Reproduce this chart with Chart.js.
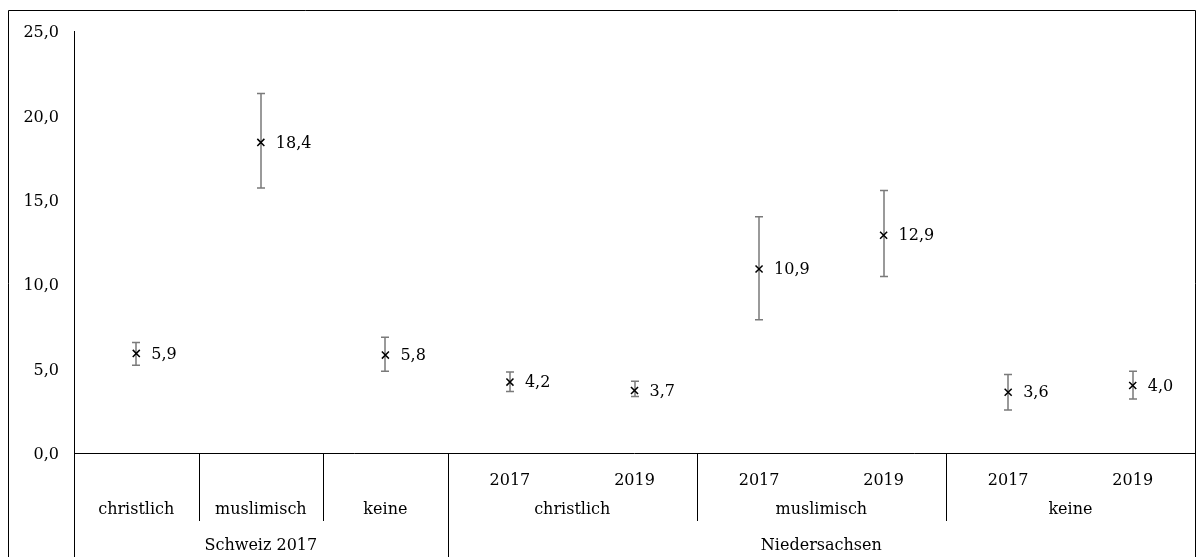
<!DOCTYPE html>
<html>
<head>
<meta charset="utf-8">
<script src="https://cdn.jsdelivr.net/npm/chart.js@4/dist/chart.umd.min.js"></script>
<style>
  html, body { margin: 0; padding: 0; background: #fff; }
  canvas { display: block; }
</style>
</head>
<body>
<canvas id="chart" width="1203" height="557"></canvas>
<script>
// Category hierarchy (one entry per point)
const regionLabels   = ['Schweiz 2017', 'Schweiz 2017', 'Schweiz 2017',
                        'Niedersachsen', 'Niedersachsen', 'Niedersachsen',
                        'Niedersachsen', 'Niedersachsen', 'Niedersachsen'];
const religionLabels = ['christlich', 'muslimisch', 'keine',
                        'christlich', 'christlich', 'muslimisch',
                        'muslimisch', 'keine', 'keine'];
const yearLabels     = ['', '', '', '2017', '2019', '2017', '2019', '2017', '2019'];

// Estimates (%) with confidence interval bounds
const values = [5.9, 18.4, 5.8, 4.2, 3.7, 10.9, 12.9, 3.6, 4.0];
const lower  = [5.2, 15.7, 4.85, 3.65, 3.35, 7.9, 10.45, 2.55, 3.2];
const upper  = [6.55, 21.3, 6.85, 4.8, 4.25, 14.0, 15.55, 4.65, 4.85];

// Y axis ticks
const yTicks = [0, 5, 10, 15, 20, 25];

const FONT_FAMILY = "'DejaVu Serif', serif";
const FONT_SIZE = 16;
const fmt = v => v.toFixed(1).replace('.', ',');

const categoryKeys = values.map((_, i) => regionLabels[i] + '|' + religionLabels[i] + '|' + yearLabels[i]);

// Draws the outer frame, the multi-level category axis and the error bars
const categoryAxisPlugin = {
  id: 'categoryAxis',
  beforeDatasetsDraw(chart) {
    const { ctx, chartArea: { left, right, top, bottom }, scales: { x, y } } = chart;
    const H = chart.height;
    const n = values.length;
    const half = (x.getPixelForValue(1) - x.getPixelForValue(0)) / 2;
    const snap = v => Math.round(v) + 0.5;

    ctx.save();
    ctx.strokeStyle = '#000';
    ctx.lineWidth = 1;

    // outer frame
    ctx.beginPath();
    ctx.moveTo(8.5, H);
    ctx.lineTo(8.5, 10.5);
    ctx.lineTo(snap(right), 10.5);
    ctx.lineTo(snap(right), H);
    ctx.stroke();

    // category axis line
    ctx.beginPath();
    ctx.moveTo(left, snap(bottom));
    ctx.lineTo(right, snap(bottom));
    ctx.stroke();

    // dividers between categories
    for (let i = 0; i < n; i++) {
      const px = snap(x.getPixelForValue(i) - half);
      let yEnd;
      if (i === 0 || regionLabels[i] !== regionLabels[i - 1]) yEnd = H;
      else if (religionLabels[i] !== religionLabels[i - 1]) yEnd = bottom + 68;
      else continue;
      ctx.beginPath();
      ctx.moveTo(px, bottom);
      ctx.lineTo(px, yEnd);
      ctx.stroke();
    }

    // labels
    ctx.fillStyle = '#000';
    ctx.font = FONT_SIZE + 'px ' + FONT_FAMILY;
    ctx.textAlign = 'center';
    ctx.textBaseline = 'middle';

    // row 1: years
    yearLabels.forEach((lab, i) => {
      if (lab) ctx.fillText(lab, x.getPixelForValue(i), bottom + 28);
    });

    // rows 2 and 3: merged spans
    const drawSpans = (labels, parents, yPos) => {
      let start = 0;
      for (let i = 1; i <= n; i++) {
        if (i === n || labels[i] !== labels[start] || (parents && parents[i] !== parents[start])) {
          const cx = (x.getPixelForValue(start) + x.getPixelForValue(i - 1)) / 2;
          ctx.fillText(labels[start], cx, yPos);
          start = i;
        }
      }
    };
    drawSpans(religionLabels, regionLabels, bottom + 57);
    drawSpans(regionLabels, null, bottom + 93);

    // error bars
    ctx.strokeStyle = '#7a7a7a';
    ctx.lineWidth = 1.5;
    values.forEach((v, i) => {
      const cx = Math.round(x.getPixelForValue(i));
      const yl = y.getPixelForValue(lower[i]);
      const yu = y.getPixelForValue(upper[i]);
      ctx.beginPath();
      ctx.moveTo(cx, yu); ctx.lineTo(cx, yl);
      ctx.moveTo(cx - 4, yu); ctx.lineTo(cx + 4, yu);
      ctx.moveTo(cx - 4, yl); ctx.lineTo(cx + 4, yl);
      ctx.stroke();
    });
    ctx.restore();
  },
  afterDatasetsDraw(chart) {
    const { ctx, scales: { x, y } } = chart;
    ctx.save();
    ctx.fillStyle = '#000';
    ctx.font = FONT_SIZE + 'px ' + FONT_FAMILY;
    ctx.textAlign = 'left';
    ctx.textBaseline = 'middle';
    values.forEach((v, i) => {
      ctx.fillText(fmt(v), x.getPixelForValue(i) + 15, y.getPixelForValue(v) + 1);
    });
    ctx.restore();
  }
};

new Chart(document.getElementById('chart'), {
  type: 'line',
  data: {
    labels: categoryKeys,
    datasets: [{
      data: values,
      showLine: false,
      pointStyle: 'crossRot',
      pointRadius: 5,
      pointHoverRadius: 5,
      pointBorderColor: '#000',
      pointBorderWidth: 1.5,
      borderColor: '#000'
    }]
  },
  options: {
    responsive: false,
    devicePixelRatio: 1,
    animation: false,
    events: [],
    layout: { padding: { left: 0, top: 31, right: 8, bottom: 104 } },
    plugins: { legend: { display: false }, tooltip: { enabled: false } },
    scales: {
      x: { type: 'category', offset: true, display: false },
      y: {
        min: 0,
        max: 25,
        afterBuildTicks(scale) { scale.ticks = yTicks.map(v => ({ value: v })); },
        afterFit(scale) { scale.width = 74; },
        ticks: {
          callback: v => fmt(v),
          color: '#000',
          padding: 15,
          labelOffset: 2,
          font: { family: FONT_FAMILY, size: FONT_SIZE }
        },
        grid: { display: true, drawOnChartArea: false, drawTicks: false, color: 'rgba(0,0,0,0)' },
        border: { display: true, color: '#000', width: 1 }
      }
    }
  },
  plugins: [categoryAxisPlugin]
});
</script>
</body>
</html>
